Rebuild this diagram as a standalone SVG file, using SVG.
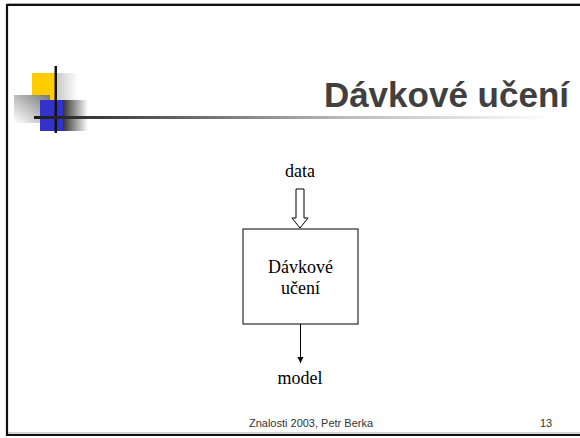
<svg xmlns="http://www.w3.org/2000/svg" width="580" height="438" viewBox="0 0 580 438">
<defs>
<linearGradient id="hline" x1="0" y1="0" x2="1" y2="0">
<stop offset="0" stop-color="#1a1a1a"/>
<stop offset="0.35" stop-color="#777"/>
<stop offset="0.6" stop-color="#bbb"/>
<stop offset="1" stop-color="#fff"/>
</linearGradient>
<linearGradient id="fadeR" x1="0" y1="0" x2="1" y2="0">
<stop offset="0" stop-color="#333"/>
<stop offset="1" stop-color="#fff"/>
</linearGradient>
<linearGradient id="fadeY" x1="0" y1="0" x2="1" y2="0">
<stop offset="0" stop-color="#c8c8c8"/>
<stop offset="1" stop-color="#fff"/>
</linearGradient>
<linearGradient id="graySq" x1="1" y1="0" x2="0" y2="1">
<stop offset="0" stop-color="#777"/>
<stop offset="1" stop-color="#fff"/>
</linearGradient>
<marker id="ah" viewBox="0 0 10 10" refX="10" refY="5" markerWidth="6" markerHeight="7" markerUnits="userSpaceOnUse" orient="auto">
<path d="M0,0 L10,5 L0,10 z" fill="#000"/>
</marker>
<style>
.serif{font-family:"Liberation Serif","Times New Roman",serif;font-size:18px;fill:#000;text-anchor:middle}
.foot{font-family:"Liberation Sans",Arial,sans-serif;font-size:11px;fill:#333}
</style>
</defs>
<rect width="580" height="438" fill="#fff"/>
<g id="frame">
<line x1="7" y1="3.5" x2="580" y2="3.5" stroke="#aaa" stroke-width="1"/>
<line x1="7" y1="433" x2="580" y2="433" stroke="#aaa" stroke-width="1"/>
<path d="M580,5 H7 V435 H580" fill="none" stroke="#111" stroke-width="2.2"/>
</g>
<g id="logo">
<rect x="32" y="73" width="23" height="27" fill="#FFCC00"/>
<rect x="56" y="73" width="22" height="27" fill="url(#fadeY)"/>
<rect x="14" y="95" width="36" height="28" fill="url(#graySq)"/>
<rect x="40" y="100" width="23" height="31" fill="#3333CC"/>
<rect x="63" y="100" width="25" height="31" fill="url(#fadeR)"/>
<rect x="54.5" y="66" width="2.5" height="67" fill="#111"/>
<rect x="34" y="116" width="520" height="3" fill="url(#hline)"/>
</g>
<text x="569" y="107" style="font-family:'Liberation Sans',Arial,sans-serif;font-weight:bold;font-size:35px;fill:#404040;text-anchor:end">Dávkové učení</text>
<g id="node-data">
<text class="serif" x="300" y="177">data</text>
</g>
<g id="node-box">
<rect x="243" y="229" width="115" height="95" fill="#fff" stroke="#000" stroke-width="1"/>
<text class="serif" x="300.5" y="273">Dávkové</text>
<text class="serif" x="300.5" y="294">učení</text>
</g>
<g id="node-model">
<text class="serif" x="300" y="384">model</text>
</g>
<g id="connectors">
<path d="M296,189 H304 V218 H308 L300,228 L292,218 H296 Z" fill="#fff" stroke="#000" stroke-width="1"/>
<line x1="300.5" y1="324" x2="300.5" y2="363" stroke="#000" stroke-width="1" marker-end="url(#ah)"/>
</g>
<g id="footer">
<text class="foot" x="311" y="427" text-anchor="middle">Znalosti 2003, Petr Berka</text>
<text class="foot" x="540" y="427">13</text>
</g>
</svg>
